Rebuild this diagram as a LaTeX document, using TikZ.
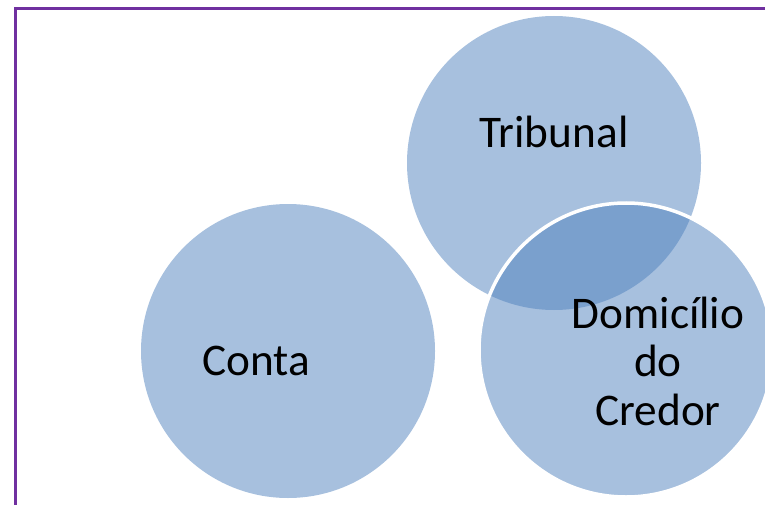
\documentclass[tikz,border=0pt]{standalone}
\usepackage{fontspec}
\setmainfont{Carlito}
\definecolor{vennblue}{HTML}{4F81BD}
\definecolor{framepurple}{HTML}{7030A0}
\begin{document}
\begin{tikzpicture}[x=1pt,y=-1pt,
  venn/.style={circle, minimum size=294pt, inner sep=0pt, fill=vennblue, fill opacity=0.5},
  vlabel/.style={font=\fontsize{45.3}{48.5}\selectfont, align=center, text=black, inner sep=0pt}]
\useasboundingbox (0,0) rectangle (765,505);
\draw[framepurple, line width=3pt] (15,520) -- (15,9) -- (780,9);
\node[venn] (conta) at (288,351) {};
\node[venn] (tribunal) at (554,163) {};
\node[venn, draw=white, draw opacity=1, line width=3.5pt] (domicilio) at (626,350) {};
\node[vlabel, anchor=base] (tconta) at (256,375) {Conta};
\node[vlabel, anchor=base] (ttribunal) at (554,148) {Tribunal};
\node[vlabel] (tdomicilio) at (658,361) {Domicílio\\do\\Credor};
\end{tikzpicture}
\end{document}
